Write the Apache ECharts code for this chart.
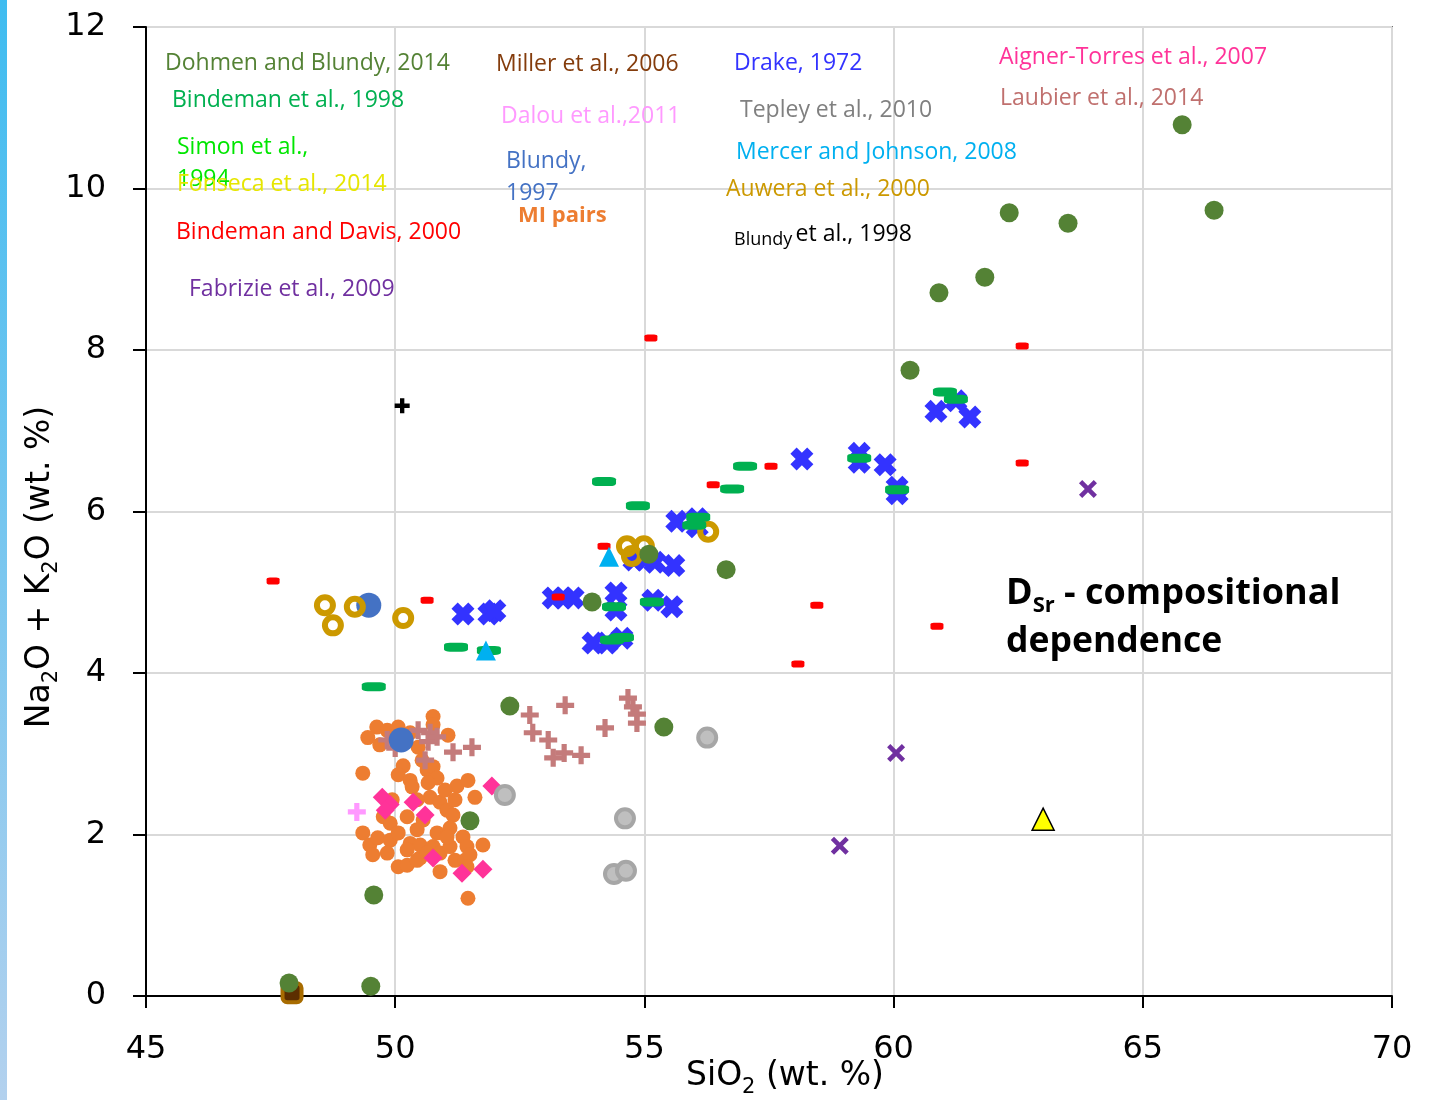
<!DOCTYPE html>
<html>
<head>
<meta charset="utf-8">
<script src="https://cdn.jsdelivr.net/npm/echarts/dist/echarts.min.js"></script>
<style>
html,body{margin:0;padding:0;background:#fff;}
#chart{width:1440px;height:1100px;}
</style>
</head>
<body>
<div id="chart"></div>
<script>
// ---- axis ticks ----
const xTicks = [45, 50, 55, 60, 65, 70];
const yTicks = [0, 2, 4, 6, 8, 10, 12];

// ---- data: [SiO2, Na2O+K2O] ----
const dohmenBlundy2014 = [[65.79,10.79],[66.43,9.73],[62.32,9.70],[63.50,9.57],[61.83,8.90],[60.91,8.71],[60.33,7.75],[56.64,5.28],[55.09,5.47],[53.95,4.88],[52.30,3.59],[55.39,3.33],[51.50,2.17],[49.57,1.25],[49.51,0.12],[47.87,0.16]];
const bindeman1998 = [[54.19,6.37],[54.87,6.07],[57.02,6.56],[56.76,6.28],[61.03,7.48],[61.25,7.39],[59.31,6.66],[60.07,6.27],[56.08,5.93],[56.00,5.83],[54.39,4.82],[55.15,4.88],[54.35,4.41],[54.55,4.44],[51.22,4.32],[51.88,4.28],[49.57,3.83]];
const bindemanDavis2000 = [[55.13,8.15],[62.58,8.05],[57.54,6.56],[56.38,6.33],[62.58,6.60],[54.19,5.57],[47.55,5.14],[50.64,4.90],[53.27,4.94],[58.46,4.84],[60.87,4.58],[58.08,4.11]];
const fabrizie2009 = [[63.90,6.28],[60.05,3.01],[58.92,1.86]];
const miller2006 = [[47.93,0.04]];
const dalou2011 = [[49.23,2.28]];
const blundy1997 = [[49.47,4.84],[50.12,3.17]];
const fonseca2014 = [[63.00,2.19]];
const mercerJohnson2008 = [[54.29,5.44],[51.82,4.28]];
const auwera2000 = [[48.59,4.84],[48.75,4.59],[49.19,4.82],[50.16,4.68],[54.65,5.57],[54.99,5.57],[54.75,5.45],[56.28,5.75]];
const tepley2010 = [[52.20,2.49],[56.26,3.20],[54.61,2.20],[54.39,1.51],[54.63,1.55]];
const blundy1998 = [[50.14,7.31]];
const drake1972 = [[51.36,4.73],[51.88,4.73],[52.00,4.77],[53.17,4.93],[53.37,4.93],[53.57,4.93],[54.43,4.99],[54.43,4.78],[55.17,4.90],[55.55,4.82],[53.97,4.37],[54.25,4.37],[54.55,4.43],[55.65,5.88],[56.06,5.91],[56.06,5.81],[54.79,5.40],[55.01,5.40],[55.21,5.37],[55.59,5.33],[58.16,6.65],[59.31,6.72],[59.31,6.61],[59.83,6.58],[60.07,6.30],[60.07,6.22],[60.85,7.24],[61.25,7.37],[61.53,7.17]];
const laubier2014 = [[52.70,3.48],[53.41,3.60],[52.76,3.26],[53.07,3.17],[53.17,2.95],[53.39,3.01],[53.73,2.98],[54.21,3.32],[54.67,3.69],[54.77,3.58],[54.85,3.49],[54.85,3.38],[51.16,3.02],[51.54,3.08],[50.46,3.29],[50.70,3.26],[50.66,3.15],[49.84,3.17],[50.00,3.07],[50.60,2.92],[50.84,3.21]];
const aignerTorres2007 = [[49.74,2.46],[49.90,2.37],[49.80,2.30],[50.36,2.40],[50.60,2.24],[51.94,2.60],[50.76,1.71],[51.34,1.52],[51.76,1.57]];
const miPairs = [[50.76,3.46],[50.76,3.36],[49.63,3.33],[49.45,3.20],[49.69,3.11],[49.84,3.29],[50.06,3.33],[50.30,3.26],[50.46,3.08],[51.06,3.23],[49.35,2.76],[50.16,2.85],[50.06,2.74],[50.30,2.67],[50.34,2.59],[50.64,2.80],[50.76,2.84],[50.84,2.70],[50.66,2.64],[51.24,2.60],[51.46,2.67],[51.60,2.46],[50.70,2.46],[50.90,2.40],[50.44,2.43],[51.04,2.30],[49.76,2.22],[50.24,2.22],[50.56,2.18],[51.16,2.24],[49.90,2.14],[50.44,2.06],[49.35,2.02],[49.49,1.87],[49.65,1.96],[49.90,1.93],[50.06,2.02],[50.30,1.89],[50.50,1.87],[50.84,2.02],[51.10,2.08],[51.36,1.97],[51.44,1.85],[51.76,1.87],[49.55,1.75],[49.84,1.77],[50.24,1.81],[50.50,1.71],[50.76,1.85],[50.90,1.77],[51.10,1.85],[51.20,1.68],[51.40,1.68],[51.50,1.75],[50.06,1.60],[50.24,1.62],[50.90,1.54],[51.44,1.60],[51.46,1.21],[50.44,1.68],[50.64,1.77],[51.04,1.97],[50.54,2.92],[51.00,2.55],[51.20,2.43],[49.94,2.43]];

// ---- text labels ----
const labelTexts = ['Dohmen and Blundy, 2014','Bindeman et al., 1998','Simon et al.,','1994','Fonseca et al., 2014','Bindeman and Davis, 2000','Fabrizie et al., 2009','Miller et al., 2006','Dalou et al.,2011','Blundy,','1997','Drake, 1972','Tepley et al., 2010','Mercer and Johnson, 2008','Auwera et al., 2000','Aigner-Torres et al., 2007','Laubier et al., 2014'];
const labelColors = ['#548235','#00b050','#00e600','#00e600','#e6e600','#ff0000','#7030a0','#843c0c','#ff99ff','#4472c4','#4472c4','#3333ff','#808080','#00b0f0','#cc9900','#ff3399','#c0706e'];
const labelPos = [[165,63],[172,100],[177,147],[177,179],[177,184],[176,232],[189,289],[496,64],[501,116],[506,161],[506,193],[734,63],[740,110],[736,152],[726,189],[999,57],[1000,98]];

const SYM_X_BOLD = 'path://M0,2.7L2.7,0L5,2.3L7.3,0L10,2.7L7.7,5L10,7.3L7.3,10L5,7.7L2.7,10L0,7.3L2.3,5Z';
const SYM_X = 'path://M0,1.8L1.8,0L5,3.2L8.2,0L10,1.8L6.8,5L10,8.2L8.2,10L5,6.8L1.8,10L0,8.2L3.2,5Z';
const SYM_PLUS = 'path://M3.2,0H5.8V3.2H9V5.8H5.8V9H3.2V5.8H0V3.2H3.2Z';

const chart = echarts.init(document.getElementById('chart'), null, {renderer: 'canvas'});

function sc(name, data, symbol, size, style, z) {
  style.opacity = 1;
  return {name, type: 'scatter', data, symbol, symbolSize: size, itemStyle: style, z: z, emphasis: {disabled: true}, animation: false};
}

const graphics = [
  {type: 'rect', left: 0, top: 0, shape: {width: 7, height: 1100}, style: {fill: new echarts.graphic.LinearGradient(0,0,0,1,[{offset:0,color:'#3fbcf0'},{offset:1,color:'#b3d1ee'}])}}
];
labelTexts.forEach((t, i) => {
  graphics.push({type: 'text', x: labelPos[i][0], y: labelPos[i][1], z: 50,
    style: {text: t, fill: labelColors[i], font: '23px "Open Sans"', align: 'left', verticalAlign: 'middle'}});
});
graphics.push({type: 'text', x: 518, y: 216, z: 50, style: {text: 'MI pairs', fill: '#ed7d31', font: 'bold 22px "Open Sans"', align: 'left', verticalAlign: 'middle'}});
graphics.push({type: 'text', x: 734, y: 234, z: 50, style: {text: '{s|Blundy} {b|et al., 1998}', align: 'left', verticalAlign: 'middle',
  rich: {s: {fill: '#000', fontFamily: 'Open Sans', fontSize: 18, lineHeight: 30, verticalAlign: 'bottom'}, b: {fill: '#000', fontFamily: 'Open Sans', fontSize: 23, lineHeight: 30}}}});
graphics.push({type: 'text', x: 1006, y: 594, z: 50, style: {text: '{b|D}{s|Sr}{b| - compositional}', align: 'left', verticalAlign: 'middle',
  rich: {b: {fill: '#000', fontFamily: 'Open Sans', fontWeight: 'bold', fontSize: 36, lineHeight: 46}, s: {fill: '#000', fontFamily: 'Open Sans', fontWeight: 'bold', fontSize: 22, lineHeight: 26, verticalAlign: 'bottom'}}}});
graphics.push({type: 'text', x: 1006, y: 642, z: 50, style: {text: 'dependence', fill: '#000', font: 'bold 35.5px "Open Sans"', align: 'left', verticalAlign: 'middle'}});
graphics.push({type: 'text', x: 40, y: 567, rotation: Math.PI / 2, z: 50, style: {text: '{n|Na}{s|2}{n|O + K}{s|2}{n|O (wt. %)}', align: 'center', verticalAlign: 'middle',
  rich: {n: {fill: '#000', fontFamily: 'DejaVu Sans', fontSize: 33, lineHeight: 44}, s: {fill: '#000', fontFamily: 'DejaVu Sans', fontSize: 21, lineHeight: 23, verticalAlign: 'bottom'}}}});
graphics.push({type: 'text', x: 785, y: 1076, z: 50, style: {text: '{n|SiO}{s|2}{n| (wt. %)}', align: 'center', verticalAlign: 'middle',
  rich: {n: {fill: '#000', fontFamily: 'DejaVu Sans', fontSize: 33, lineHeight: 44}, s: {fill: '#000', fontFamily: 'DejaVu Sans', fontSize: 21, lineHeight: 23, verticalAlign: 'bottom'}}}});

const option = {
  backgroundColor: '#fff',
  animation: false,
  grid: {left: 146, right: 48, top: 27, bottom: 104, show: true, borderColor: '#000', borderWidth: 1.5, backgroundColor: 'transparent'},
  xAxis: {
    type: 'value', min: xTicks[0], max: xTicks[xTicks.length - 1], interval: 5,
    axisLine: {show: true, onZero: false, lineStyle: {color: '#000', width: 2}},
    axisTick: {show: true, inside: false, length: 12, lineStyle: {color: '#000', width: 2}},
    axisLabel: {color: '#000', fontFamily: 'DejaVu Sans', fontSize: 32, margin: 38},
    splitLine: {show: true, lineStyle: {color: '#d9d9d9', width: 2}}
  },
  yAxis: {
    type: 'value', min: yTicks[0], max: yTicks[yTicks.length - 1], interval: 2,
    axisLine: {show: true, onZero: false, lineStyle: {color: '#000', width: 2}},
    axisTick: {show: true, inside: false, length: 13, lineStyle: {color: '#000', width: 2}},
    axisLabel: {color: '#000', fontFamily: 'DejaVu Sans', fontSize: 32, margin: 40},
    splitLine: {show: true, lineStyle: {color: '#d9d9d9', width: 2}}
  },
  series: [
    sc('MI pairs', miPairs, 'circle', 15, {color: '#ed7d31'}, 2),
    sc('Laubier et al., 2014', laubier2014, SYM_PLUS, 18, {color: '#c47b7b'}, 3),
    sc('Aigner-Torres et al., 2007', aignerTorres2007, 'diamond', 19, {color: '#ff3399'}, 4),
    sc('Dalou et al., 2011', dalou2011, SYM_PLUS, 18, {color: '#ff99ff'}, 4),
    sc('Tepley et al., 2010', tepley2010, 'circle', 18, {color: '#bfbfbf', borderColor: '#a6a6a6', borderWidth: 4}, 5),
    sc('Blundy, 1997', blundy1997, 'circle', 25, {color: '#4472c4'}, 6),
    sc('Drake, 1972', drake1972, SYM_X_BOLD, 23, {color: '#3333ff'}, 7),
    sc('Auwera et al., 2000', auwera2000, 'circle', 16, {color: 'rgba(255,255,255,0)', borderColor: '#cc9900', borderWidth: 6}, 8),
    sc('Bindeman et al., 1998', bindeman1998, 'roundRect', [24, 9], {color: '#00b050'}, 9),
    sc('Bindeman and Davis, 2000', bindemanDavis2000, 'roundRect', [13, 7], {color: '#ff0000'}, 10),
    sc('Mercer and Johnson, 2008', mercerJohnson2008, 'triangle', 20, {color: '#00b0f0'}, 10),
    sc('Fabrizie et al., 2009', fabrizie2009, SYM_X, 18, {color: '#7030a0'}, 10),
    sc('Miller et al., 2006', miller2006, 'roundRect', 19, {color: '#5c2e00', borderColor: '#a86c00', borderWidth: 4}, 10),
    sc('Dohmen and Blundy, 2014', dohmenBlundy2014, 'circle', 19, {color: '#548235'}, 11),
    sc('Fonseca et al., 2014', fonseca2014, 'triangle', 22, {color: '#ffff00', borderColor: '#000', borderWidth: 1.5}, 12),
    sc('Blundy et al., 1998', blundy1998, SYM_PLUS, 15, {color: '#000'}, 12)
  ],
  graphic: graphics
};
chart.setOption(option);
</script>
</body>
</html>
